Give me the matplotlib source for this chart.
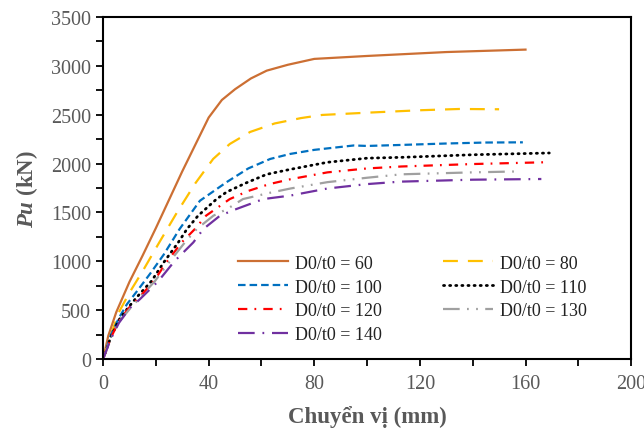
import matplotlib.pyplot as plt
from matplotlib.ticker import MultipleLocator

plt.rcParams['font.family'] = ['Liberation Serif', 'DejaVu Serif']
plt.rcParams['mathtext.fontset'] = 'custom'
plt.rcParams['mathtext.rm'] = 'Liberation Serif'
plt.rcParams['mathtext.bfit'] = 'Liberation Serif:italic:bold'

# Chuyen vi (mm) va Pu (kN) doc tu do thi
x60 = [0, 2, 5, 10, 15, 20, 30, 40, 45, 50, 56, 62, 70, 80, 100, 130, 160]
y60 = [0, 240, 480, 790, 1060, 1340, 1920, 2470, 2650, 2760, 2870, 2950, 3010, 3070, 3100, 3140, 3165]

x80 = [0, 3, 6, 10, 15, 21, 28, 35, 41.7, 48, 55.7, 65, 75, 83, 100, 120, 135, 150]
y80 = [0, 250, 480, 680, 900, 1180, 1500, 1800, 2047, 2200, 2323, 2410, 2465, 2497, 2520, 2545, 2558, 2555]

x100 = [0, 3, 6, 9, 13, 18, 23, 29, 36.7, 46.8, 55, 63.3, 70.8, 80, 90, 95, 100, 112.5, 130, 145, 159]
y100 = [0, 250, 420, 560, 700, 880, 1070, 1331, 1620, 1810, 1950, 2047, 2098, 2140, 2170, 2185, 2180, 2190, 2205, 2215, 2217]

x110 = [0, 3, 6, 9.6, 13, 18.4, 23, 28.5, 31.8, 36, 43, 46.8, 54, 62, 70.8, 85, 100, 113.6, 140, 169]
y110 = [0, 230, 400, 530, 640, 800, 990, 1194, 1331, 1467, 1637, 1709, 1800, 1890, 1940, 2013, 2055, 2064, 2090, 2108]

x120 = [0, 3, 6, 10, 14, 19.3, 24, 29.8, 34.8, 39, 48, 55, 63, 71, 85, 100, 113, 140, 167]
y120 = [0, 220, 390, 530, 640, 800, 990, 1194, 1331, 1467, 1637, 1720, 1790, 1840, 1910, 1950, 1970, 1995, 2013]

x130 = [0, 3, 6, 10, 14, 19.7, 25, 31, 35.5, 41.8, 47, 53, 63, 71, 85, 100, 113, 140, 158]
y130 = [0, 220, 380, 510, 630, 800, 990, 1194, 1331, 1467, 1535, 1637, 1700, 1745, 1810, 1855, 1890, 1910, 1920]

x140 = [0, 3, 6, 10, 14, 21, 27, 34.2, 38, 44.3, 50, 60.7, 70.8, 85, 100, 112.5, 140, 166]
y140 = [0, 210, 370, 520, 614, 800, 1000, 1194, 1331, 1467, 1530, 1637, 1672, 1745, 1790, 1815, 1835, 1842]

fig = plt.figure(figsize=(6.44, 4.35), dpi=100)
ax = fig.add_axes([0.160, 0.172, 0.820, 0.787])

lw = 1.6
l60, = ax.plot(x60, y60, color='#CC6F33', lw=lw, ls='-', label='D0/t0 = 60')
l80, = ax.plot(x80, y80, color='#FFC000', lw=lw, dashes=(6.7, 4.5), label='D0/t0 = 80')
l100, = ax.plot(x100, y100, color='#0070C0', lw=lw, dashes=(3.4, 1.8), label='D0/t0 = 100')
l110, = ax.plot(x110, y110, color='black', lw=2.0, dashes=(0.4, 1.8),
                dash_capstyle='round', label='D0/t0 = 110')
l120, = ax.plot(x120, y120, color='#FF0000', lw=lw, dashes=(4.2, 3.2, 0.8, 3.2), label='D0/t0 = 120')
l130, = ax.plot(x130, y130, color='#A0A0A0', lw=lw, dashes=(7.5, 3.3, 0.8, 3.3, 0.8, 3.3), label='D0/t0 = 130')
l140, = ax.plot(x140, y140, color='#7030A0', lw=lw, dashes=(7.5, 3.5, 0.8, 3.5), label='D0/t0 = 140')

ax.set_xlim(0, 200)
ax.set_ylim(0, 3500)
ax.xaxis.set_major_locator(MultipleLocator(40))
ax.xaxis.set_minor_locator(MultipleLocator(20))
ax.yaxis.set_major_locator(MultipleLocator(500))
ax.yaxis.set_minor_locator(MultipleLocator(250))
ax.tick_params(which='both', direction='out', length=5, width=1.3, colors='black',
               labelcolor='#595959', labelsize=14.5)
ax.tick_params(axis='x', pad=6)
for s in ax.spines.values():
    s.set_linewidth(1.5)

ax.set_xlabel('Chuyển vị (mm)', fontsize=16.5, fontweight='bold', color='#595959', labelpad=8)
ax.set_ylabel(r'$\mathbfit{Pu}$ (kN)', fontsize=16.5, fontweight='bold', color='#595959', labelpad=8)

handles = [l60, l100, l120, l140, l80, l110, l130]
ax.legend(handles=handles, ncol=2, frameon=False, fontsize=13, loc='upper left',
          bbox_to_anchor=(0.255, 0.305), borderaxespad=0, borderpad=0,
          handlelength=2.8, handletextpad=0.35, columnspacing=3.4, labelspacing=0.38,
          labelcolor='#222222')

fig.savefig('out.png', dpi=100)
